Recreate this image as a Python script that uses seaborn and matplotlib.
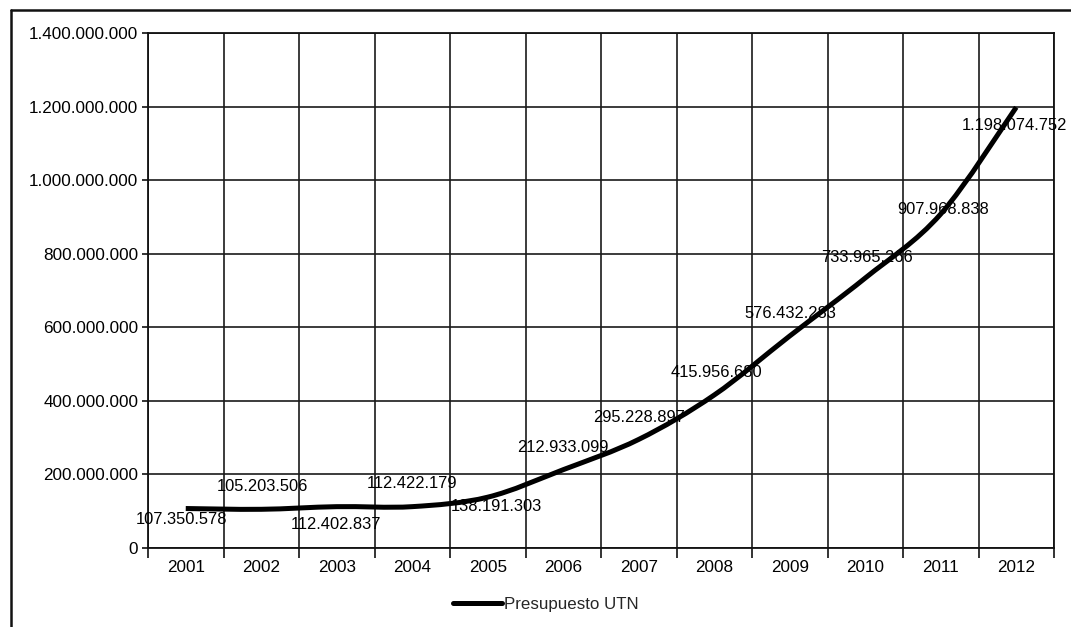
import matplotlib
matplotlib.use("Agg")
import matplotlib.pyplot as plt
from matplotlib.lines import Line2D
from matplotlib.path import Path
from matplotlib.patches import PathPatch
from matplotlib.ticker import FuncFormatter, FixedLocator
import seaborn as sns
import pandas as pd

# Presupuesto anual de la UTN (pesos)
years = ["2001", "2002", "2003", "2004", "2005", "2006",
         "2007", "2008", "2009", "2010", "2011", "2012"]
budget = [107350578, 105203506, 112402837, 112422179, 138191303, 212933099,
          295228897, 415956680, 576432283, 733965266, 907968838, 1198074752]
series_name = "Presupuesto UTN"

# label offsets (pixels) relative to each point
label_dx = [-4, 1, -1, 0, 9, 0, 0, 2, 1, 2, 2, -2]
label_dy = [-11, 23, -18, 23, -9, 22, 22, 22, 22, 21, 4, -18]

sns.set_theme(style="white")
plt.rcParams["font.family"] = ["Liberation Sans", "DejaVu Sans"]

df = pd.DataFrame({"pos": range(len(years)), "Presupuesto": budget, "Serie": series_name})

fig = plt.figure(figsize=(10.71, 6.27), dpi=100)
ax = fig.add_axes([148 / 1071, 1 - 548 / 627, (1054 - 148) / 1071, (548 - 33) / 627])

sns.lineplot(data=df, x="pos", y="Presupuesto", hue="Serie", palette=["black"],
             linewidth=3.6, ax=ax, legend=False)

# replace the polyline with a smoothed (Catmull-Rom / Bezier) curve through the same points
line = ax.lines[0]
xs = list(line.get_xdata())
ys = list(line.get_ydata())
line.set_visible(False)
n = len(xs)
verts = [(xs[0], ys[0])]
codes = [Path.MOVETO]
for i in range(n - 1):
    x0, y0 = (xs[i - 1], ys[i - 1]) if i > 0 else (xs[i], ys[i])
    x1, y1 = xs[i], ys[i]
    x2, y2 = xs[i + 1], ys[i + 1]
    x3, y3 = (xs[i + 2], ys[i + 2]) if i + 2 < n else (xs[i + 1], ys[i + 1])
    c1 = (x1 + (x2 - x0) / 6, y1 + (y2 - y0) / 6)
    c2 = (x2 - (x3 - x1) / 6, y2 - (y3 - y1) / 6)
    verts += [c1, c2, (x2, y2)]
    codes += [Path.CURVE4] * 3
ax.add_patch(PathPatch(Path(verts, codes), facecolor="none", edgecolor="black",
                       linewidth=3.6, capstyle="butt", joinstyle="round", zorder=3))

ax.set_xlim(-0.5, len(years) - 0.5)
ax.set_ylim(0, 1_400_000_000)
ax.set_xlabel("")
ax.set_ylabel("")

fmt = FuncFormatter(lambda v, _: f"{int(v):,}".replace(",", "."))
ax.yaxis.set_major_locator(FixedLocator([i * 200_000_000 for i in range(8)]))
ax.yaxis.set_major_formatter(fmt)

ax.set_xticks(range(len(years)))
ax.set_xticklabels(years)
ax.xaxis.set_minor_locator(FixedLocator([p - 0.5 for p in range(len(years) + 1)]))

ax.tick_params(axis="x", which="major", length=0, pad=9, labelsize=12.3, colors="black")
ax.tick_params(axis="x", which="minor", length=7, width=1.2, color="#111111", direction="out", bottom=True)
ax.tick_params(axis="y", which="major", length=4, width=1.2, color="#111111", direction="out",
               left=True, pad=3, labelsize=12.3, labelcolor="black")

ax.grid(True, axis="y", which="major", color="#1a1a1a", linewidth=1.2)
ax.grid(True, axis="x", which="minor", color="#1a1a1a", linewidth=1.2)
ax.grid(False, axis="x", which="major")

for s in ax.spines.values():
    s.set_visible(True)
    s.set_color("#111111")
    s.set_linewidth(1.3)

for i, (v, dx, dy) in enumerate(zip(budget, label_dx, label_dy)):
    ax.annotate(f"{v:,}".replace(",", "."), xy=(i, v), xytext=(dx, dy),
                textcoords="offset pixels", ha="center", va="center",
                fontsize=11.9, color="black", zorder=4)

handle = Line2D([], [], color="black", linewidth=3.6)
fig.legend([handle], [series_name], loc="center", bbox_to_anchor=(546 / 1071, 1 - 604 / 627),
           frameon=False, fontsize=12.2, handlelength=2.9, handletextpad=0.1,
           borderpad=0, borderaxespad=0)

# outer chart frame (left and top edges)
fig.add_artist(Line2D([11 / 1071, 11 / 1071], [0, 1 - 10 / 627], transform=fig.transFigure,
                      color="#111111", linewidth=1.8))
fig.add_artist(Line2D([11 / 1071, 1], [1 - 10 / 627, 1 - 10 / 627], transform=fig.transFigure,
                      color="#111111", linewidth=1.8))

fig.savefig("out.png", dpi=100, facecolor="white")
